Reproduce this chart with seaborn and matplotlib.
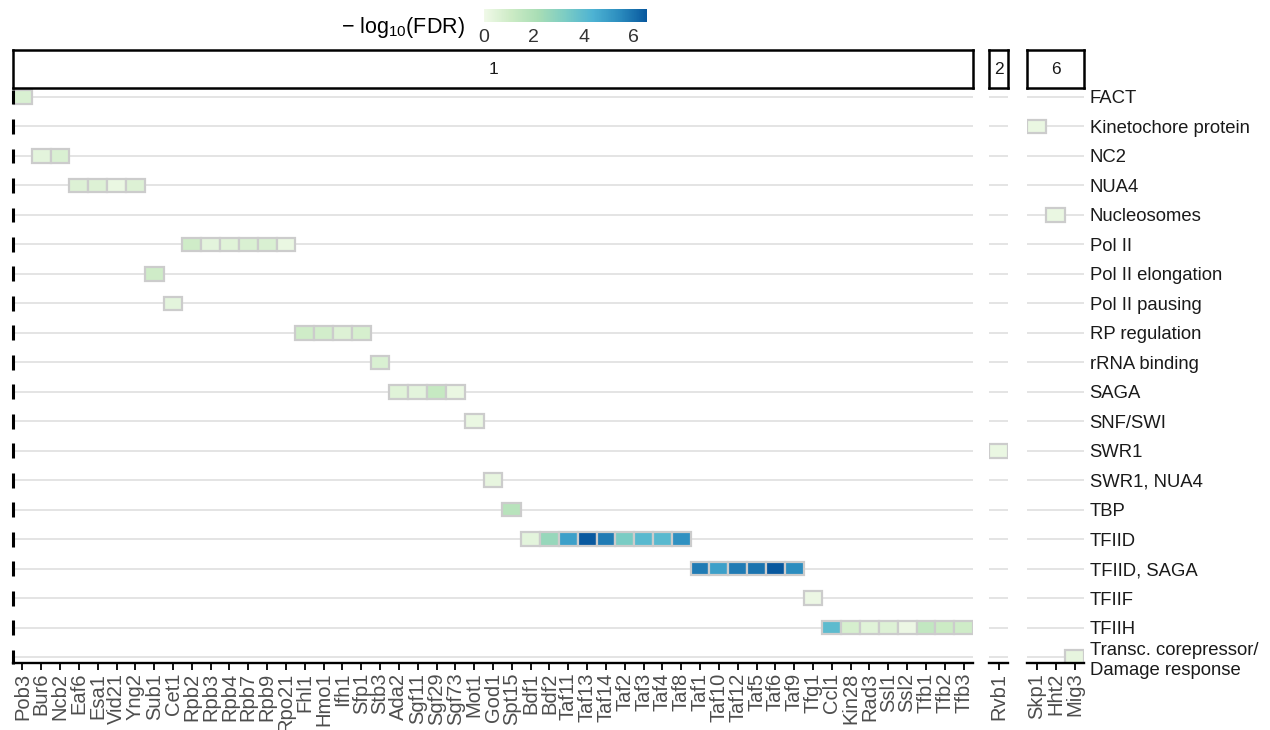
import numpy as np
import pandas as pd
import matplotlib
matplotlib.use("Agg")
import matplotlib.pyplot as plt
import seaborn as sns
from matplotlib.colors import Normalize
from matplotlib.cm import ScalarMappable

# ---------------- data ----------------
categories = ["FACT", "Kinetochore protein", "NC2", "NUA4", "Nucleosomes", "Pol II",
              "Pol II elongation", "Pol II pausing", "RP regulation", "rRNA binding",
              "SAGA", "SNF/SWI", "SWR1", "SWR1, NUA4", "TBP", "TFIID", "TFIID, SAGA",
              "TFIIF", "TFIIH", "Transc. corepressor/\nDamage response"]

p1_genes = ["Pob3", "Bur6", "Ncb2", "Eaf6", "Esa1", "Vid21", "Yng2", "Sub1", "Cet1",
            "Rpb2", "Rpb3", "Rpb4", "Rpb7", "Rpb9", "Rpo21", "Fhl1", "Hmo1", "Ifh1",
            "Sfp1", "Stb3", "Ada2", "Sgf11", "Sgf29", "Sgf73", "Mot1", "God1", "Spt15",
            "Bdf1", "Bdf2", "Taf11", "Taf13", "Taf14", "Taf2", "Taf3", "Taf4", "Taf8",
            "Taf1", "Taf10", "Taf12", "Taf5", "Taf6", "Taf9", "Tfg1", "Ccl1", "Kin28",
            "Rad3", "Ssl1", "Ssl2", "Tfb1", "Tfb2", "Tfb3"]
p1_complex = (["FACT"] + ["NC2"] * 2 + ["NUA4"] * 4 + ["Pol II elongation", "Pol II pausing"]
              + ["Pol II"] * 6 + ["RP regulation"] * 4 + ["rRNA binding"] + ["SAGA"] * 4
              + ["SNF/SWI", "SWR1, NUA4", "TBP"] + ["TFIID"] * 9 + ["TFIID, SAGA"] * 6
              + ["TFIIF"] + ["TFIIH"] * 8)
p1_fdr = [0.7, 0.4, 0.7, 0.6, 0.6, 0.2, 0.6, 1.0, 0.4,
          1.0, 0.4, 0.5, 0.7, 0.7, 0.2, 1.0, 0.9, 0.6,
          0.8, 0.7, 0.5, 0.4, 1.3, 0.2, 0.2, 0.3, 1.7,
          0.4, 2.6, 4.9, 6.5, 5.8, 3.3, 4.1, 4.1, 5.3,
          5.8, 4.9, 5.8, 5.95, 6.55, 5.4, 0.15, 4.0, 0.8,
          0.5, 0.6, 0.15, 1.4, 1.1, 1.0]

p2_genes = ["Rvb1"]
p2_complex = ["SWR1"]
p2_fdr = [0.2]

p6_genes = ["Skp1", "Hht2", "Mig3"]
p6_complex = ["Kinetochore protein", "Nucleosomes", "Transc. corepressor/\nDamage response"]
p6_fdr = [0.2, 0.2, 0.3]

cluster_labels = ["1", "2", "6"]
cbar_ticks = [0, 2, 4, 6]
fdr_max = 6.55
gnbu7 = ["#F0F9E8", "#CCEBC5", "#A8DDB5", "#7BCCC4", "#4EB3D3", "#2B8CBE", "#08589E"]

# ---------------- style ----------------
sns.set_theme(style="white")
plt.rcParams['font.family'] = ['Liberation Sans', 'DejaVu Sans']
plt.rcParams['mathtext.fontset'] = 'custom'
plt.rcParams['mathtext.rm'] = 'Liberation Sans'
plt.rcParams['mathtext.it'] = 'Liberation Sans:italic'
plt.rcParams['mathtext.default'] = 'regular'

cmap = sns.blend_palette(gnbu7, as_cmap=True)
norm = Normalize(0, fdr_max)

W, H = 1270, 730
fig = plt.figure(figsize=(W / 100, H / 100), dpi=100)


def fa(l, t, w, h):
    return [l / W, 1 - (t + h) / H, w / W, h / H]


panels = [
    (p1_genes, p1_complex, p1_fdr, 13, 960, cluster_labels[0]),
    (p2_genes, p2_complex, p2_fdr, 989, 19, cluster_labels[1]),
    (p6_genes, p6_complex, p6_fdr, 1027, 57, cluster_labels[2]),
]
PT, PH = 89, 574
nrow = len(categories)

for k, (genes, comp, vals, left, width, lab) in enumerate(panels):
    df = pd.DataFrame({"gene": genes, "complex": comp, "fdr": vals})
    df["x"] = np.arange(len(df))
    df["y"] = [categories.index(c) for c in df["complex"]]
    ax = fig.add_axes(fa(left, PT, width, PH))
    for i in range(nrow):
        ax.axhline(i, color="#dcdcdc", lw=1.1, zorder=0)
    ax.bar(df["x"], 0.46, bottom=df["y"] - 0.23, width=1.0,
           color=[cmap(norm(v)) for v in df["fdr"]], edgecolor="#cccccc",
           linewidth=1.6, zorder=2)
    ax.set_xlim(-0.5, len(df) - 0.5)
    ax.set_ylim(nrow - 1 + 0.2, -0.27)
    ax.set_xticks(df["x"])
    ax.set_xticklabels(df["gene"], rotation=90, fontsize=14.5, color="#4d4d4d")
    ax.tick_params(axis="x", length=5, width=1.3, color="black", pad=2,
                   direction="out", bottom=True)
    for s in ["top", "right", "left"]:
        ax.spines[s].set_visible(False)
    ax.spines["bottom"].set_linewidth(1.7)
    ax.spines["bottom"].set_color("black")
    ax.set_facecolor("none")
    if k == 0:
        ax.set_yticks([])
        ax.vlines([-0.5] * nrow, np.arange(nrow) - 0.25, np.arange(nrow) + 0.25,
                  color="black", lw=2.2, clip_on=False, zorder=3)
    elif k == 2:
        ax.yaxis.tick_right()
        ax.set_yticks(range(nrow))
        ax.set_yticklabels(categories, fontsize=13.3, color="#1a1a1a")
        ax.tick_params(axis="y", length=0, pad=4)
    else:
        ax.set_yticks([])
    ax.grid(False)

    sax = fig.add_axes(fa(left, 50, width, 38))
    sax.set_xticks([])
    sax.set_yticks([])
    for s in sax.spines.values():
        s.set_visible(True)
        s.set_linewidth(1.8)
        s.set_color("black")
    sax.set_facecolor("white")
    sax.text(0.5, 0.5, lab, ha="center", va="center", fontsize=12.5,
             color="#1a1a1a", transform=sax.transAxes)

# colorbar
cax = fig.add_axes(fa(484, 9, 163, 13))
cb = fig.colorbar(ScalarMappable(norm=norm, cmap=cmap), cax=cax,
                  orientation="horizontal", ticks=cbar_ticks)
cb.outline.set_visible(False)
cax.tick_params(axis="x", direction="in", color="white", length=2.6, width=1,
                top=True, bottom=True, labeltop=False, labelbottom=True,
                labelsize=14, labelcolor="#333333", pad=5)
fig.text(465 / W, 1 - 27 / H, r"$-$ log$_{10}$(FDR)", ha="right", va="center",
         fontsize=15.5, color="black")

fig.savefig("out.png", dpi=100)
